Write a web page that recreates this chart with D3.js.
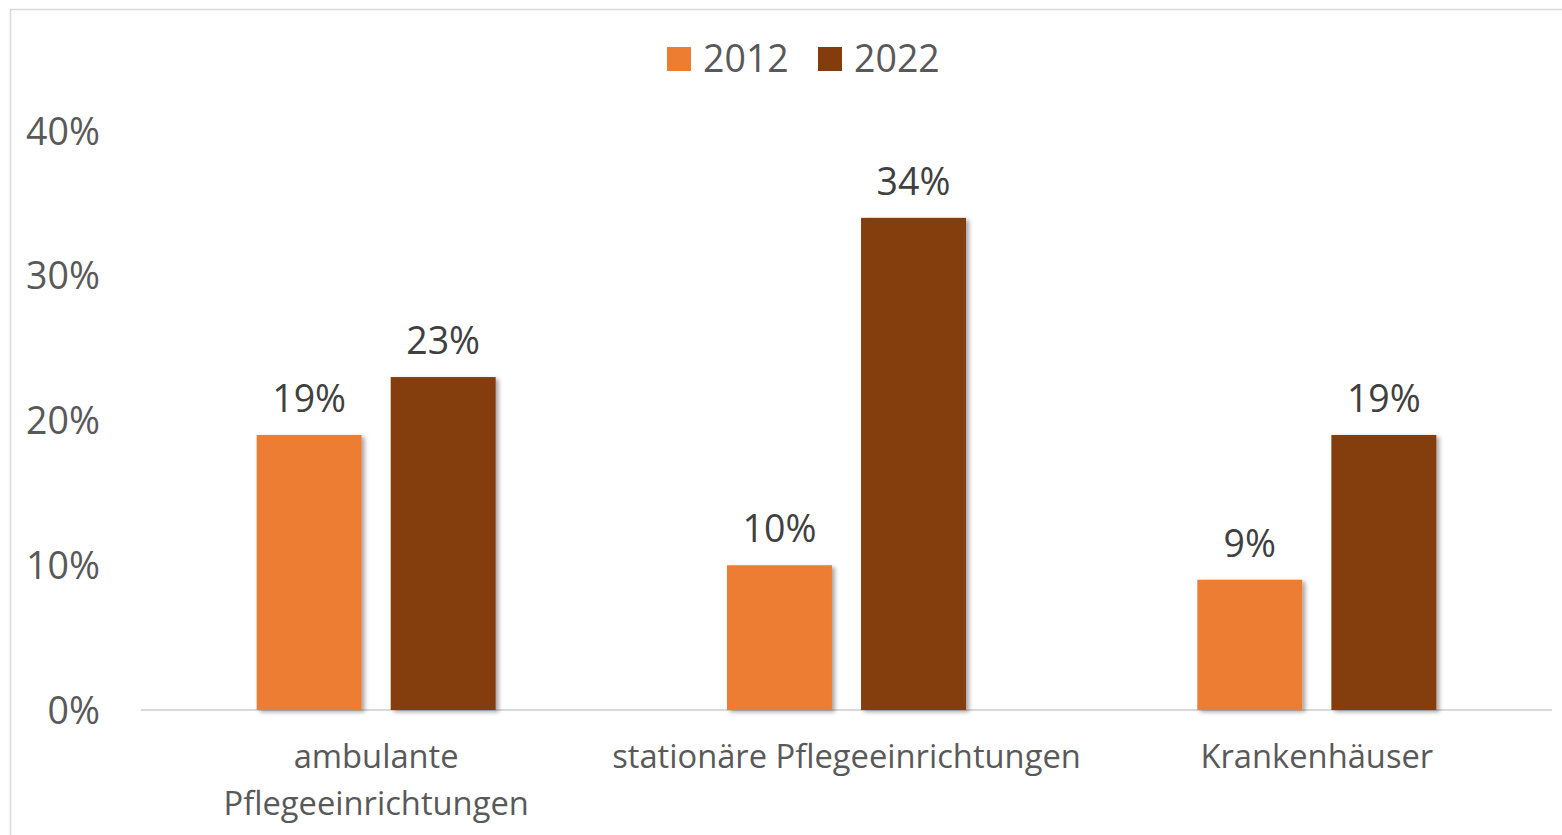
<!DOCTYPE html>
<html><head><meta charset="utf-8">
<script src="https://cdn.jsdelivr.net/npm/d3@7"></script>
<style>body{margin:0;background:#fff}svg{display:block}</style>
</head><body>
<script>
const categories = [["ambulante","Pflegeeinrichtungen"],["stationäre Pflegeeinrichtungen"],["Krankenhäuser"]];
const seriesNames = ["2012","2022"];
const values2012 = [19,10,9];
const values2022 = [23,34,19];
const yTicks = [0,10,20,30,40];
const colors = ["#ED7D31","#843C0C"];

const W=1562,H=835;
const svg=d3.select("body").append("svg").attr("width",W).attr("height",H);
const defs=svg.append("defs");
const f=defs.append("filter").attr("id","sh").attr("x","-20%").attr("y","-20%").attr("width","140%").attr("height","140%");
f.append("feDropShadow").attr("dx",3).attr("dy",2).attr("stdDeviation",2).attr("flood-color","#000").attr("flood-opacity",0.35);

svg.append("rect").attr("x",10.5).attr("y",9.5).attr("width",1700).attr("height",1000).attr("fill","none").attr("stroke","#d9d9d9").attr("stroke-width",1.5);

const font="'Open Sans', sans-serif";
const x0=d3.scaleBand().domain(d3.range(categories.length)).range([141,1552]);
const x1=d3.scaleBand().domain(seriesNames).range([0,239]).paddingInner(0.217);
const y=d3.scaleLinear().domain([0,40]).range([710,131]);

// axis line
svg.append("line").attr("x1",141).attr("x2",1552).attr("y1",y(0)).attr("y2",y(0)).attr("stroke","#d9d9d9").attr("stroke-width",2);

// y tick labels
svg.selectAll(".yt").data(yTicks).enter().append("text")
 .attr("x",100).attr("y",d=>y(d)).attr("dy","0.36em").attr("text-anchor","end")
 .attr("font-family",font).attr("font-size",37.5).attr("fill","#595959").text(d=>d+"%");

const data=[values2012,values2022];
const g=svg.append("g");
categories.forEach((c,i)=>{
  const cx=x0(i)+x0.bandwidth()/2;
  const gx=cx-119.5;
  data.forEach((vals,s)=>{
    const bx=gx+x1(seriesNames[s]);
    g.append("rect").attr("x",bx).attr("y",y(vals[i])).attr("width",x1.bandwidth()).attr("height",y(0)-y(vals[i]))
      .attr("fill",colors[s]).attr("filter","url(#sh)");
    g.append("text").attr("x",bx+x1.bandwidth()/2).attr("y",y(vals[i])-23).attr("text-anchor","middle")
      .attr("font-family",font).attr("font-size",37.5).attr("fill","#404040").text(vals[i]+"%");
  });
  const t=svg.append("text").attr("text-anchor","middle").attr("font-family",font).attr("font-size",32.7).attr("fill","#595959");
  c.forEach((line,k)=>t.append("tspan").attr("x",cx).attr("y",768+k*47).text(line));
});

// legend
const leg=[{x:667,tx:703},{x:818,tx:854}];
seriesNames.forEach((n,s)=>{
  svg.append("rect").attr("x",leg[s].x).attr("y",47).attr("width",24).attr("height",24).attr("fill",colors[s]);
  svg.append("text").attr("x",leg[s].tx).attr("y",72).attr("font-family",font).attr("font-size",37.5).attr("fill","#595959").text(n);
});
</script>
</body></html>
